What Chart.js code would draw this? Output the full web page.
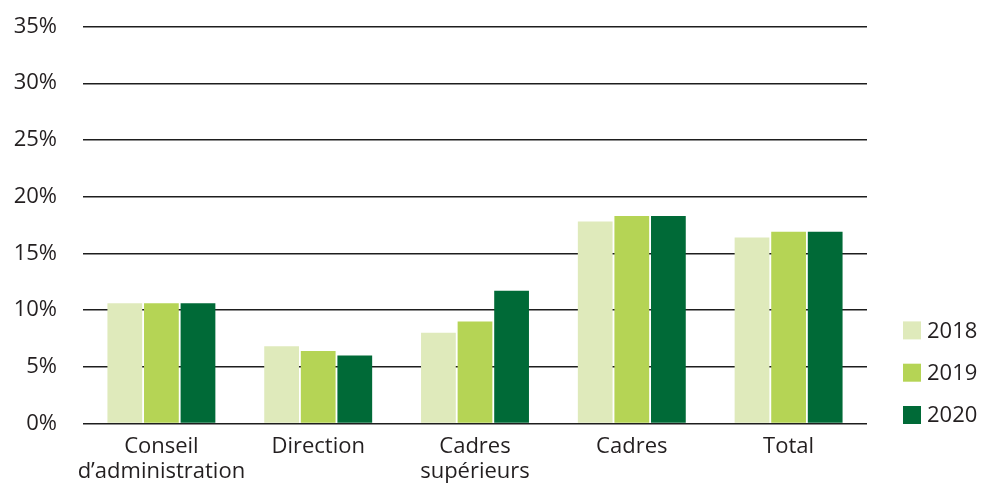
<!DOCTYPE html>
<html>
<head>
<meta charset="utf-8">
<script src="https://cdn.jsdelivr.net/npm/chart.js@4/dist/chart.umd.min.js"></script>
<style>
  html, body { margin: 0; padding: 0; background: #fff; }
  #wrap { width: 982px; height: 486px; position: relative; }
</style>
</head>
<body>
<div id="wrap"><canvas id="c" width="982" height="486"></canvas></div>
<script>
const categories = [["Conseil", "d\u2019administration"], "Direction", ["Cadres", "supérieurs"], "Cadres", "Total"];
const seriesLabels = ["2018", "2019", "2020"];
const values2018 = [10.6, 6.8, 8.0, 17.8, 16.4];
const values2019 = [10.6, 6.4, 9.0, 18.3, 16.9];
const values2020 = [10.6, 6.0, 11.7, 18.3, 16.9];
const seriesColors = ["#dfeabb", "#b5d455", "#006a37"];
const yMax = 35;
const yStep = 5;

const FONT = "'Open Sans', 'Noto Sans', sans-serif";
const TEXT = "#231f20";

const sideLegend = {
  id: 'sideLegend',
  afterDraw(chart) {
    const ctx = chart.ctx;
    const area = chart.chartArea;
    const ds = chart.data.datasets;
    const n = ds.length;
    ctx.save();
    ctx.font = "22px " + FONT;
    ctx.textBaseline = 'middle';
    ctx.textAlign = 'left';
    for (let i = 0; i < n; i++) {
      const cy = area.bottom - 8.5 - (n - 1 - i) * 42.3;
      const x = area.right + 36;
      ctx.fillStyle = ds[i].backgroundColor;
      ctx.fillRect(x, cy - 9, 18, 18);
      ctx.fillStyle = TEXT;
      ctx.fillText(ds[i].label, x + 24, cy + 1);
    }
    ctx.restore();
  }
};

new Chart(document.getElementById('c'), {
  type: 'bar',
  data: {
    labels: categories,
    datasets: [
      { label: seriesLabels[0], data: values2018, backgroundColor: seriesColors[0] },
      { label: seriesLabels[1], data: values2019, backgroundColor: seriesColors[1] },
      { label: seriesLabels[2], data: values2020, backgroundColor: seriesColors[2] }
    ]
  },
  options: {
    responsive: false,
    animation: false,
    devicePixelRatio: 1,
    layout: { autoPadding: false, padding: { top: 26.5, right: 115, bottom: 0, left: 0 } },
    datasets: { bar: { barPercentage: 0.95, categoryPercentage: 0.70 } },
    plugins: {
      legend: { display: false },
      tooltip: { enabled: false }
    },
    scales: {
      x: {
        grid: { display: false, drawTicks: false },
        border: { display: false },
        ticks: { color: TEXT, font: { family: FONT, size: 22, lineHeight: 1.14 }, padding: 11, maxRotation: 0, autoSkip: false },
        afterFit(s) { s.height = 62.5; s.paddingLeft = 0; s.paddingRight = 0; }
      },
      y: {
        min: 0, max: yMax,
        grid: { color: "#1e1e1e", lineWidth: 1.4, drawTicks: false },
        border: { display: false },
        ticks: {
          stepSize: yStep, color: TEXT, font: { family: FONT, size: 22 }, padding: 26,
          callback: v => v + '%'
        },
        afterFit(s) { s.width = 83; s.paddingTop = 0; s.paddingBottom = 0; }
      }
    }
  },
  plugins: [sideLegend]
});
</script>
</body>
</html>
